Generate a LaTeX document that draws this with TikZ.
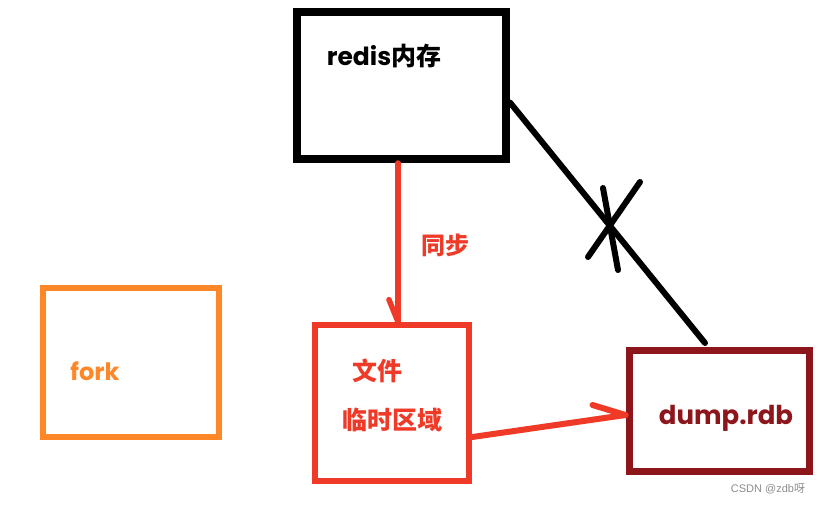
\documentclass[tikz,border=0pt]{standalone}
\usepackage{fontspec}
\setmainfont{Poppins}
\newfontfamily\cjk{Noto Sans CJK SC}
\newfontfamily\lat{Poppins}
\newfontfamily\wm{Liberation Sans}
\usetikzlibrary{calc}
\definecolor{cred}{RGB}{240,58,40}
\definecolor{corange}{RGB}{255,135,40}
\definecolor{cdark}{RGB}{140,22,28}
\begin{document}
\begin{tikzpicture}[x=1pt,y=-1pt,
  box/.style={draw,rectangle,inner sep=0pt},
  lbl/.style={inner sep=0pt,anchor=center},
  conn/.style={line width=5.5pt,line cap=round}]
\useasboundingbox (0,0) rectangle (820,504);
% boxes
\node[box,line width=8pt,draw=black,minimum width=209pt,minimum height=147pt] (redis) at (401.5,85.5) {};
\node[box,line width=6pt,draw=corange,minimum width=176pt,minimum height=149pt] (fork) at (131,362.5) {};
\node[box,line width=6.5pt,draw=cred,minimum width=154pt,minimum height=156pt] (temp) at (392,403) {};
\node[box,line width=7pt,draw=cdark,minimum width=180pt,minimum height=121pt] (dump) at (719,410.5) {};
% labels
\node[lbl] (tredis) at (384,56) {\fontsize{25}{25}\selectfont\bfseries{\lat redis}{\cjk 内存}};
\node[lbl,text=cred] (tsync) at (445,245) {\fontsize{24}{24}\selectfont\bfseries\cjk 同步};
\node[lbl,text=cred] (tfile) at (377,371) {\fontsize{25}{25}\selectfont\bfseries\cjk 文件};
\node[lbl,text=cred] (tarea) at (392,420) {\fontsize{25}{25}\selectfont\bfseries\cjk 临时区域};
\node[lbl,text=corange] (tfork) at (95,371) {\fontsize{24}{24}\selectfont\bfseries fork};
\node[lbl,text=cdark] (tdump) at (726,418) {\fontsize{26}{26}\selectfont\bfseries dump.rdb};
\node[lbl,text=black!45] (twm) at (768,489) {\fontsize{11}{11}\selectfont\wm CSDN @zdb{\cjk 呀}};
% sync arrow
\coordinate (s1) at ([xshift=-3.5pt]redis.south);
\coordinate (s2) at (s1 |- temp.north);
\draw[conn,cred] (s1) -- (s2);
\coordinate (sh) at ($(s2)+(-9,-22)$);
\draw[conn,cred] (sh) -- (s2);
% temp -> dump arrow
\coordinate (d1) at ([yshift=-34pt]temp.east);
\coordinate (d2) at ([yshift=-4.5pt]dump.west);
\draw[conn,cred,line width=6pt] (d1) -- (d2);
\coordinate (dh) at ($(d2)+(-33,-10)$);
\draw[conn,cred,line width=6pt] (dh) -- (d2);
% crossed black line
\coordinate (b1) at ([yshift=-17pt]redis.east);
\coordinate (b2) at (705,343);
\draw[conn,black,line width=6pt] (b1) -- (b2);
\coordinate (x1) at (588,257);
\coordinate (x2) at (640,182);
\coordinate (x3) at (603,188);
\coordinate (x4) at (618,270);
\draw[conn,black,line width=6pt] (x1) -- (x2);
\draw[conn,black,line width=6pt] (x3) -- (x4);
\end{tikzpicture}
\end{document}
